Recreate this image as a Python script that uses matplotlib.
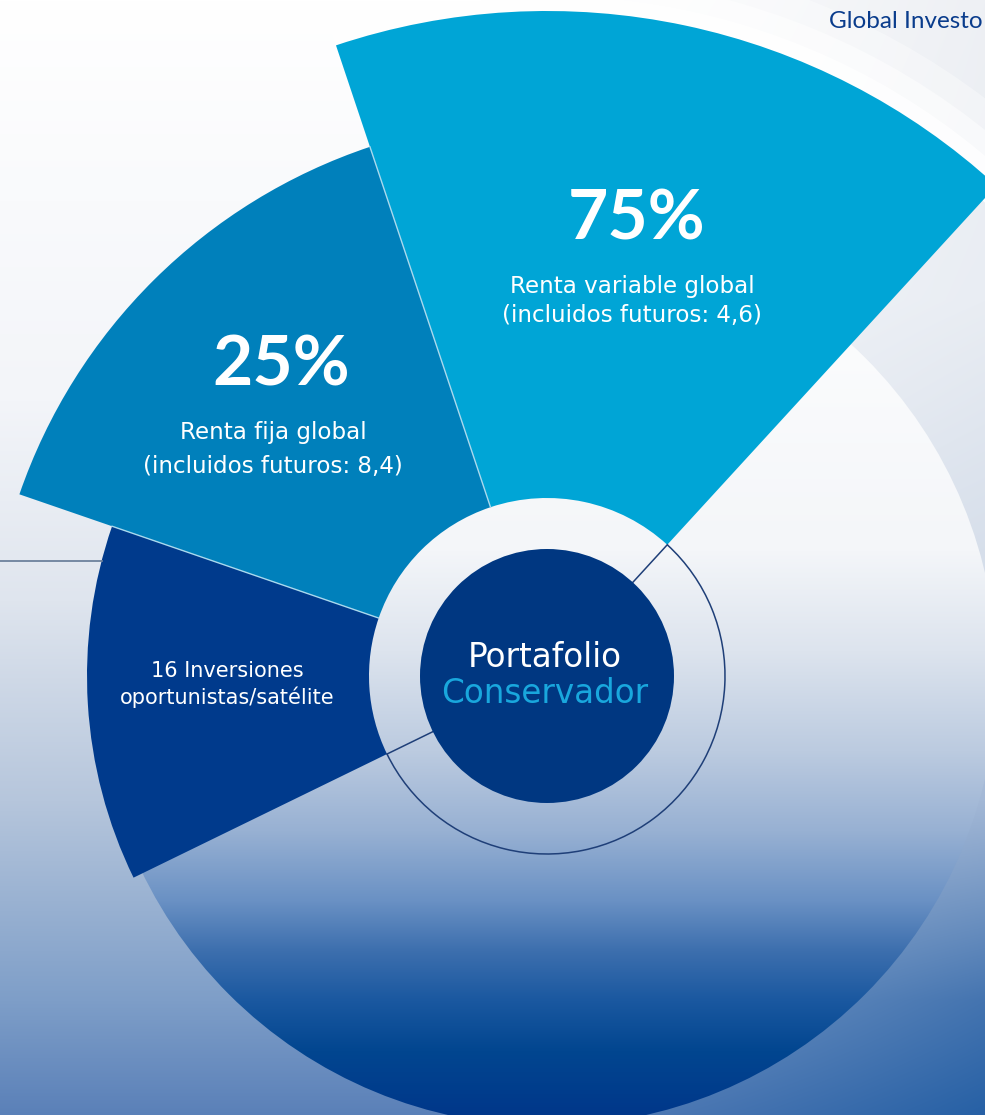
import numpy as np
import matplotlib.pyplot as plt
from matplotlib.patches import Wedge, Circle, Arc
from matplotlib.colors import to_rgb

plt.rcParams['font.family'] = ['DejaVu Sans']

W, H = 985, 1115

# chart content
shares = ["75%", "25%", ""]
labels = ["Renta variable global\n(incluidos futuros: 4,6)",
          "Renta fija global\n(incluidos futuros: 8,4)",
          "16 Inversiones\noportunistas/satélite"]
center_title = ["Portafolio", "Conservador"]
brand = "Global Investo"   # cut by the right edge in the source

# layout (pixels, y counted from the top of the picture)
cx, cy = 547, 676
seg_angles = [(47.5, 108.5), (108.5, 161.0), (161.0, 206.0)]
seg_outer = [665, 558, 460]
seg_colors = ["#00a5d6", "#0080bb", "#003a8c"]
ring_r = 178
core_r = 127
bowl_r = 450
share_pos = [(637, 240), (281, 386), None]
label_pos = [(632, 293), (273, 439), (227, 677)]
label_size = [16.6, 16.6, 15]
label_gap = [29, 34, 27]


def Y(y):
    return H - y


def vgrad(stops):
    ys = np.arange(H)
    pos = [s[0] for s in stops]
    cols = np.array([to_rgb(s[1]) for s in stops])
    return np.stack([np.interp(ys, pos, cols[:, k]) for k in range(3)], axis=1)


left_stops = [(0, "#ffffff"), (400, "#f3f5f9"), (600, "#dfe5ee"), (800, "#b6c6dc"),
              (1000, "#7e9ec8"), (1115, "#5a80b8")]
right_stops = [(0, "#eef0f4"), (300, "#e9edf3"), (600, "#d3dce9"), (800, "#a3b8d6"),
               (1000, "#4474b0"), (1115, "#2660a5")]
bowl_stops = [(226, "#ffffff"), (550, "#f4f6f9"), (650, "#dde4ee"), (750, "#bccbe0"),
              (830, "#98b1d3"), (900, "#6a91c4"), (950, "#3d6fae"), (1000, "#1a58a0"),
              (1050, "#024690"), (1115, "#00378a")]

fig = plt.figure(figsize=(W / 100, H / 100), dpi=100)
ax = fig.add_axes([0, 0, 1, 1])
ax.set_axis_off()

# background
w = np.clip((np.arange(W) - 480) / 505, 0, 1) ** 1.2
bg = vgrad(left_stops)[:, None, :] * (1 - w[None, :, None]) + vgrad(right_stops)[:, None, :] * w[None, :, None]
ax.imshow(bg, extent=(0, W, 0, H), origin='upper', aspect='auto', zorder=0)

# soft white rim along the big segment
t1, t2 = seg_angles[0]
for extra, a in [(60, 0.35), (35, 0.5), (15, 0.8)]:
    ax.add_patch(Wedge((cx, Y(cy)), seg_outer[0] + extra, t1 - 8, t2, width=extra + 20,
                       facecolor='white', edgecolor='none', alpha=a, zorder=1))

# big gradient disc
bowl = np.repeat(vgrad(bowl_stops)[:, None, :], 2, axis=1)
im = ax.imshow(bowl, extent=(0, W, 0, H), origin='upper', aspect='auto', zorder=2)
im.set_clip_path(Circle((cx, Y(cy)), bowl_r, transform=ax.transData))

# segments
for (a1, a2), r, c in zip(seg_angles, seg_outer, seg_colors):
    ax.add_patch(Wedge((cx, Y(cy)), r, a1, a2, width=r - ring_r, facecolor=c,
                       edgecolor='none', zorder=3))

# thin light separators between segments
for k in range(1, len(seg_angles)):
    t = np.radians(seg_angles[k][0])
    r2 = min(seg_outer[k - 1], seg_outer[k])
    ax.plot([cx + ring_r * np.cos(t), cx + r2 * np.cos(t)],
            [Y(cy) + ring_r * np.sin(t), Y(cy) + r2 * np.sin(t)],
            color='#a9d9ee', linewidth=1.0, zorder=3.5)

# ring outline and spokes
line_col = "#1f3f78"
ax.add_patch(Arc((cx, Y(cy)), 2 * ring_r, 2 * ring_r, theta1=seg_angles[-1][1] - 360,
                 theta2=seg_angles[0][0], color=line_col, linewidth=1.1, zorder=4))
for a in (seg_angles[0][0], seg_angles[-1][1]):
    t = np.radians(a)
    ax.plot([cx + core_r * np.cos(t), cx + ring_r * np.cos(t)],
            [Y(cy) + core_r * np.sin(t), Y(cy) + ring_r * np.sin(t)],
            color=line_col, linewidth=1.1, zorder=4)

# left connector line up to the small segment
line_y = 561
x_end = cx - np.sqrt(seg_outer[2] ** 2 - (cy - line_y) ** 2)
ax.plot([0, x_end], [Y(line_y), Y(line_y)], color="#6d819c", linewidth=1.3, zorder=4)

# core
ax.add_patch(Circle((cx, Y(cy)), core_r, facecolor="#003781", edgecolor='none', zorder=5))

# texts
for s, sp, lab, lp, fs, gap in zip(shares, share_pos, labels, label_pos, label_size, label_gap):
    if sp is not None:
        ax.text(sp[0], Y(sp[1]), s, color='white', fontsize=50, fontweight='bold',
                family=['Lato', 'DejaVu Sans'], ha='center', va='baseline', zorder=6)
    for i, line in enumerate(lab.split("\n")):
        ax.text(lp[0], Y(lp[1] + i * gap), line, color='white', fontsize=fs,
                ha='center', va='baseline', zorder=6)

ax.text(545, Y(667), center_title[0], color='white', fontsize=23.5,
        ha='center', va='baseline', zorder=6)
ax.text(545, Y(703), center_title[1], color='#19a7dd', fontsize=23.5,
        ha='center', va='baseline', zorder=6)

ax.text(983, Y(28), brand, color='#0a3c8c', fontsize=17.5, family=['Lato', 'DejaVu Sans'],
        ha='right', va='baseline', zorder=6)

ax.set_xlim(0, W)
ax.set_ylim(0, H)
fig.savefig("out.png", dpi=100)
